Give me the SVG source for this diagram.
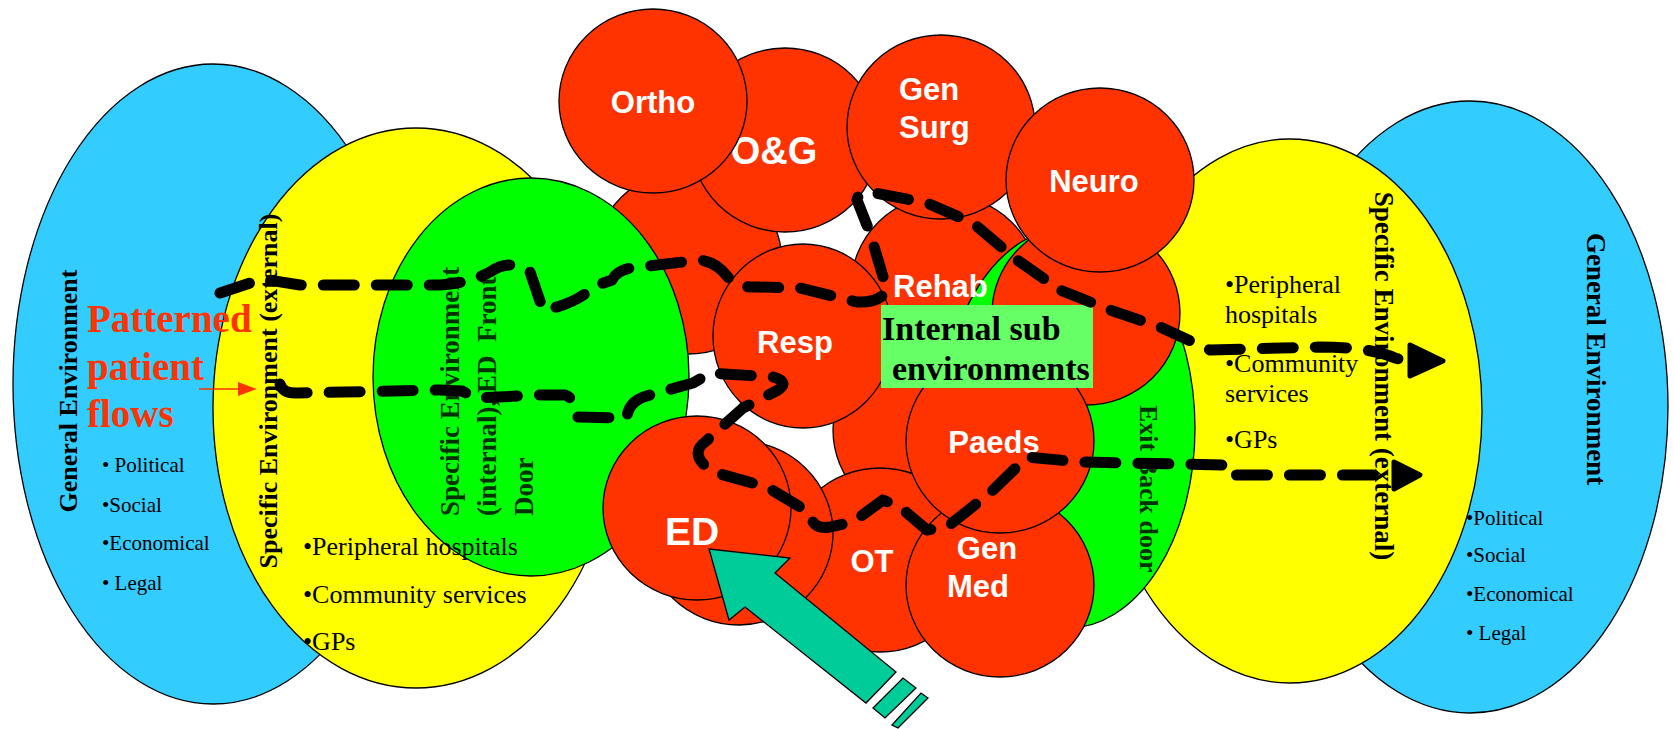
<svg xmlns="http://www.w3.org/2000/svg" width="1674" height="729" viewBox="0 0 1674 729">
<style>
.sh{stroke:#000;stroke-width:1.3}
.blue{fill:#33CCFF}.yel{fill:#FFFF00}.grn{fill:#00FF00}.red{fill:#FF3300}
.ser{font-family:"Liberation Serif","Times New Roman",serif}
.sb{font-family:"Liberation Serif","Times New Roman",serif;font-weight:bold}
.lab{font-family:"Liberation Sans",Arial,sans-serif;font-weight:bold;fill:#fff;font-size:31px}
.flow{fill:none;stroke:#000;stroke-width:11;stroke-linecap:round;stroke-linejoin:round;stroke-dasharray:31 22}
.head{fill:#000;stroke:#000;stroke-width:5;stroke-linejoin:round}
.teal{fill:#00CC99;stroke:#000;stroke-width:1.3}
.gt{fill:#003300}
</style>
<rect width="1674" height="729" fill="#fff"/>

<g id="general-env-left">
<ellipse class="sh blue" cx="213" cy="384" rx="200" ry="320"/>
<text class="sb" font-size="26" text-anchor="middle" transform="translate(77,391) rotate(-90)">General Environment</text>
<g class="ser" font-size="21">
<text x="102" y="472">• Political</text>
<text x="102" y="512">•Social</text>
<text x="102" y="550">•Economical</text>
<text x="102" y="590">• Legal</text>
</g>
</g>

<g id="specific-env-left">
<ellipse class="sh yel" cx="416" cy="408" rx="203" ry="280"/>
<text class="sb" font-size="26" text-anchor="middle" transform="translate(277,391) rotate(-90)">Specific Environment (external)</text>
</g>

<g id="general-env-right">
<ellipse class="sh blue" cx="1470" cy="407" rx="198" ry="306"/>
<text class="sb" font-size="27" text-anchor="middle" transform="translate(1587,359) rotate(90)">General Environment</text>
<g class="ser" font-size="21">
<text x="1466" y="525">•Political</text>
<text x="1466" y="562">•Social</text>
<text x="1466" y="601">•Economical</text>
<text x="1466" y="640">• Legal</text>
</g>
</g>

<g id="specific-env-right">
<ellipse class="sh yel" cx="1290" cy="411" rx="192" ry="272"/>
<text class="sb" font-size="27" text-anchor="middle" transform="translate(1375,376) rotate(90)">Specific Environment (external)</text>
<g class="ser" font-size="26">
<text x="1225" y="293">•Peripheral</text>
<text x="1225" y="323">hospitals</text>
<text x="1225" y="372">•Community</text>
<text x="1225" y="402">services</text>
<text x="1225" y="448">•GPs</text>
</g>
</g>

<g id="sub-x1"><ellipse class="sh red" cx="688" cy="262" rx="94" ry="92"/></g>

<g id="ed-front-door">
<ellipse class="sh grn" cx="531" cy="377" rx="158" ry="199"/>
<g class="sb gt" font-size="27">
<text transform="translate(459,516) rotate(-90)">Specific Environment</text>
<text transform="translate(496,516) rotate(-90)">(internal), ED&#160; Front</text>
<text transform="translate(533,516) rotate(-90)">Door</text>
</g>
</g>

<g id="specific-env-left-items" class="ser" font-size="26">
<text x="303" y="555">•Peripheral hospitals</text>
<text x="303" y="603">•Community services</text>
<text x="303" y="650">•GPs</text>
</g>

<g id="og"><ellipse class="sh red" cx="785" cy="140" rx="94" ry="92"/><text class="lab" style="font-size:38px" x="774" y="164" text-anchor="middle">O&amp;G</text></g>
<g id="ortho"><ellipse class="sh red" cx="653" cy="101" rx="94" ry="92"/><text class="lab" x="653" y="113" text-anchor="middle">Ortho</text></g>
<g id="rehab"><ellipse class="sh red" cx="945" cy="287" rx="94" ry="92"/></g>
<g id="sub-x5"><ellipse class="sh red" cx="927" cy="430" rx="94" ry="92"/></g>

<g id="exit-back-door">
<ellipse class="sh grn" cx="1068" cy="428" rx="127" ry="200"/>
<text class="sb gt" font-size="26" transform="translate(1140,405) rotate(90)">Exit Back door</text>
</g>

<g id="rehab-label"><text class="lab" x="893" y="297">Rehab</text></g>
<g id="sub-x2"><ellipse class="sh red" cx="1086" cy="313" rx="94" ry="92"/></g>
<g id="gen-surg"><ellipse class="sh red" cx="941" cy="127" rx="94" ry="92"/><text class="lab" x="899" y="100">Gen</text><text class="lab" x="899" y="138">Surg</text></g>
<g id="neuro"><ellipse class="sh red" cx="1100" cy="180" rx="94" ry="92"/><text class="lab" x="1094" y="192" text-anchor="middle">Neuro</text></g>
<g id="resp"><ellipse class="sh red" cx="803" cy="336" rx="90" ry="92"/><text class="lab" x="795" y="353" text-anchor="middle">Resp</text></g>
<g id="ot"><ellipse class="sh red" cx="880" cy="560" rx="94" ry="92"/><text class="lab" x="872" y="572" text-anchor="middle">OT</text></g>
<g id="sub-x3"><ellipse class="sh red" cx="739" cy="533" rx="94" ry="92"/></g>
<g id="ed"><ellipse class="sh red" cx="697" cy="508" rx="94" ry="92"/><text class="lab" style="font-size:39px" x="692" y="545" text-anchor="middle">ED</text></g>
<g id="gen-med"><ellipse class="sh red" cx="1000" cy="585" rx="94" ry="92"/><text class="lab" x="987" y="559" text-anchor="middle">Gen</text><text class="lab" x="978" y="597" text-anchor="middle">Med</text></g>
<g id="paeds"><ellipse class="sh red" cx="1000" cy="441" rx="94" ry="92"/><text class="lab" x="994" y="453" text-anchor="middle">Paeds</text></g>

<g id="internal-sub-env">
<rect x="881" y="305" width="212" height="83" fill="#66FF66"/>
<text class="sb" font-size="34" x="882" y="340">Internal sub</text>
<text class="sb" font-size="34" x="892" y="380">environments</text>
</g>

<g id="patterned-label">
<g class="sb" font-size="39" fill="#FF3300">
<text x="87" y="332">Patterned</text>
<text x="87" y="380">patient</text>
<text x="87" y="427">flows</text>
</g>
<line x1="199" y1="389" x2="240" y2="389" stroke="#FF3300" stroke-width="1.5"/>
<polygon points="238,382 257,389 238,396" fill="#FF3300"/>
</g>

<g id="entry-arrow">
<polygon class="teal" points="709,549 790,558 775,573 896,672 866,703 745,607 729,620"/>
<polygon class="teal" points="873,708 903,678 916,688 885,718"/>
<polygon class="teal" points="892,725 921,693 928,698 898,728"/>
</g>

<g id="connectors">
<path class="flow" d="M220,293 L262,279 L300,285 L440,285 Q470,283 490,272 Q510,258 530,272 L543,310 L557,307 Q580,300 595,286 L612,280 Q618,268 640,267 L700,260 Q718,262 730,280 Q740,288 757,287 L800,288 L857,302 Q880,303 887,290 L870,233 L857,200 Q858,192 870,192 L927,203 L973,223 L1013,257 L1060,290 L1110,310 L1160,327 L1210,350 L1320,347 Q1370,347 1395,358 L1410,362"/>
<polygon class="head" points="1410,345 1443,361 1410,376"/>
<path class="flow" d="M280,384 Q283,394 298,393 L440,390 L462,391 L476,398 L540,395 L565,395 Q575,398 577,417 L627,418 Q628,400 650,395 L693,383 L710,373 L773,377 Q790,382 778,390 L743,408 L705,442 Q688,455 713,472 L767,487 L810,513 Q812,530 830,527 L853,522 L883,500 L900,507 L927,530 L947,527 L990,493 L1027,457 L1080,462 L1225,465 L1228,475 L1390,475"/>
<polygon class="head" points="1394,462 1420,475 1394,489"/>
</g>
</svg>
